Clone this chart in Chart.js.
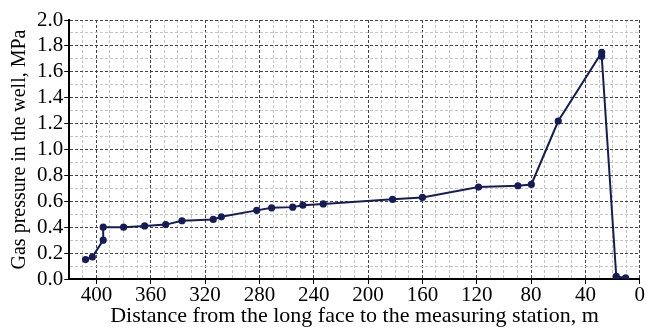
<!DOCTYPE html>
<html>
<head>
<meta charset="utf-8">
<script src="https://cdn.jsdelivr.net/npm/chart.js@4"></script>
<style>
html,body{margin:0;padding:0;background:#fff;}
#wrap{width:646px;height:334px;}
</style>
</head>
<body>
<div id="wrap"><canvas id="c" width="646" height="334"></canvas></div>
<script>
const distance = [408, 403, 395, 395, 380, 364.5, 349, 337, 314, 308, 282, 271, 255.5, 248, 233, 182, 160, 118.7, 89.7, 79.8, 60, 28, 28, 17.3, 10.4];
const pressure = [0.15, 0.17, 0.30, 0.40, 0.40, 0.41, 0.42, 0.45, 0.46, 0.48, 0.53, 0.55, 0.555, 0.57, 0.58, 0.615, 0.63, 0.71, 0.72, 0.73, 1.22, 1.75, 1.72, 0.02, 0.008];
const xTitle = 'Distance from the long face to the measuring station, m';
const yTitle = 'Gas pressure in the well, MPa';

const points = distance.map((d, i) => ({x: d, y: pressure[i]}));
const lineColor = '#141d58';
const font = 'Liberation Serif';

const isMajorX = v => Math.round(v) % 40 === 0;
const isMajorY = v => Math.round(v * 10) % 2 === 0;

new Chart(document.getElementById('c'), {
  type: 'scatter',
  data: {
    datasets: [{
      data: points,
      showLine: true,
      borderColor: lineColor,
      backgroundColor: lineColor,
      borderWidth: 2,
      pointRadius: 2.6,
      pointHoverRadius: 2.6,
      tension: 0
    }]
  },
  options: {
    responsive: false,
    animation: false,
    layout: {padding: {left: 8, right: 0, top: 20, bottom: 3}},
    plugins: {legend: {display: false}, tooltip: {enabled: false}},
    scales: {
      x: {
        type: 'linear',
        reverse: true,
        min: 0,
        max: 420,
        ticks: {
          stepSize: 10,
          autoSkip: false,
          maxRotation: 0,
          color: '#000',
          padding: 1,
          font: {family: font, size: 21, lineHeight: 1},
          callback: v => isMajorX(v) ? String(v) : ''
        },
        grid: {
          color: ctx => isMajorX(ctx.tick.value) ? '#444' : '#c4c4c4',
          lineWidth: 1,
          tickLength: 5,
          tickColor: ctx => isMajorX(ctx.tick.value) ? '#000' : 'rgba(0,0,0,0)'
        },
        border: {display: true, color: '#000', width: 2, dash: [3, 2]},
        title: {display: true, text: xTitle, color: '#000', font: {family: font, size: 22, lineHeight: 1}, padding: {top: -2, bottom: 4}}
      },
      y: {
        min: 0,
        max: 2,
        ticks: {
          stepSize: 0.1,
          autoSkip: false,
          color: '#000',
          padding: 1,
          font: {family: font, size: 21},
          callback: v => isMajorY(v) ? v.toFixed(1) : ''
        },
        grid: {
          color: ctx => isMajorY(ctx.tick.value) ? '#444' : '#c4c4c4',
          lineWidth: 1,
          tickLength: 5,
          tickColor: ctx => isMajorY(ctx.tick.value) ? '#000' : 'rgba(0,0,0,0)'
        },
        border: {display: true, color: '#000', width: 2, dash: [3, 2]},
        title: {display: true, text: yTitle, color: '#000', font: {family: font, size: 20}, padding: {top: 0, bottom: 4}}
      }
    }
  }
});
</script>
</body>
</html>
